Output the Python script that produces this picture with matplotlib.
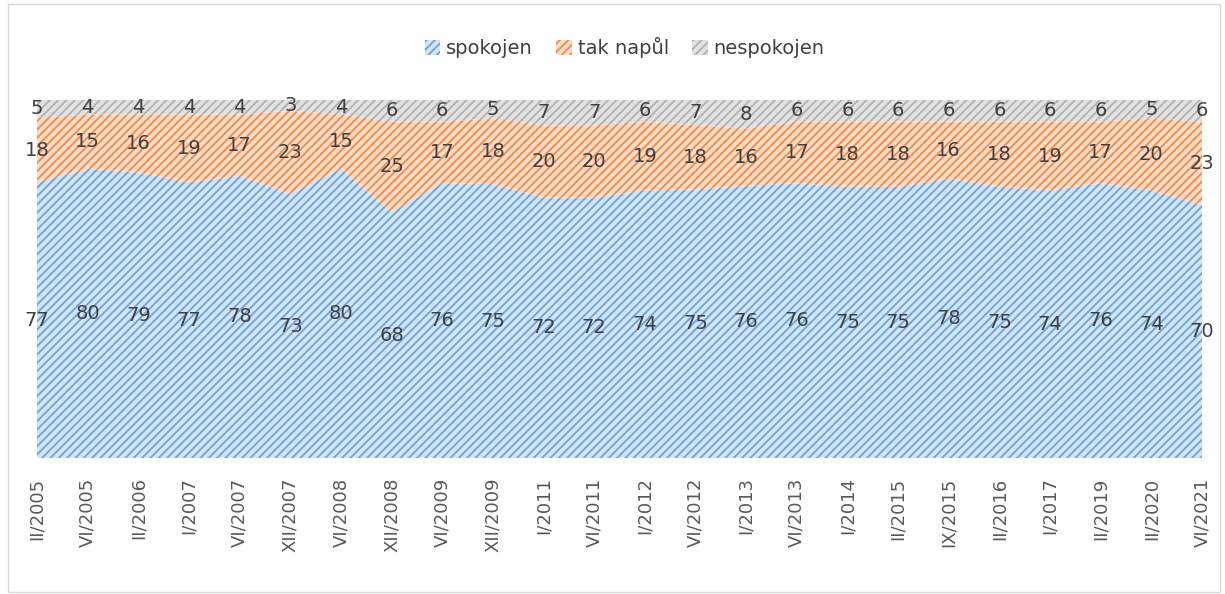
import matplotlib.pyplot as plt
import matplotlib.patches as mpatches
import numpy as np

# data
obdobi = ['II/2005', 'VI/2005', 'II/2006', 'I/2007', 'VI/2007', 'XII/2007',
          'VI/2008', 'XII/2008', 'VI/2009', 'XII/2009', 'I/2011', 'VI/2011',
          'I/2012', 'VI/2012', 'I/2013', 'VI/2013', 'I/2014', 'II/2015',
          'IX/2015', 'II/2016', 'I/2017', 'II/2019', 'II/2020', 'VI/2021']
spokojen = [77, 80, 79, 77, 78, 73, 80, 68, 76, 75, 72, 72,
            74, 75, 76, 76, 75, 75, 78, 75, 74, 76, 74, 70]
tak_napul = [18, 15, 16, 19, 17, 23, 15, 25, 17, 18, 20, 20,
             19, 18, 16, 17, 18, 18, 16, 18, 19, 17, 20, 23]
nespokojen = [5, 4, 4, 4, 4, 3, 4, 6, 6, 5, 7, 7,
              6, 7, 8, 6, 6, 6, 6, 6, 6, 6, 5, 6]

serie = [('spokojen', spokojen, '#d3e4f6', '#6fa6db'),
         ('tak napůl', tak_napul, '#fbdcc8', '#f0904e'),
         ('nespokojen', nespokojen, '#e2e2e2', '#b3b3b3')]

plt.rcParams['hatch.linewidth'] = 1.4

fig = plt.figure(figsize=(12.25, 5.94), dpi=100)
ax = fig.add_axes([37 / 1225, 1 - 458 / 594, (1202 - 37) / 1225, (458 - 100) / 594])

x = np.arange(len(obdobi))
# 100% skladany plosny graf
soucet = np.array(spokojen) + np.array(tak_napul) + np.array(nespokojen)
spodek = np.zeros(len(obdobi))
handles = []
for nazev, hodnoty, bg, fg in serie:
    h = np.array(hodnoty, dtype=float)
    hp = h / soucet * 100
    ax.fill_between(x, spodek, spodek + hp, facecolor=bg, edgecolor=fg,
                    hatch='////', linewidth=0)
    for xi, b, v, vp in zip(x, spodek, h, hp):
        ax.text(xi, b + vp / 2, str(int(v)), ha='center', va='center',
                fontsize=14, color='#404040')
    handles.append(mpatches.Patch(facecolor=bg, edgecolor=fg, hatch='////',
                                  linewidth=0, label=nazev))
    spodek = spodek + hp

ax.set_xlim(0, len(obdobi) - 1)
ax.set_ylim(0, 100)
ax.set_xticks(x)
ax.set_xticklabels(obdobi, rotation=90, fontsize=13, color='#595959')
ax.tick_params(axis='x', length=0, pad=14)
ax.set_yticks([])
for s in ax.spines.values():
    s.set_visible(False)

fig.legend(handles=handles, loc='center', bbox_to_anchor=(0.51, 1 - 48 / 594),
           ncol=3, frameon=False, fontsize=14, handlelength=0.8,
           handleheight=0.8, handletextpad=0.3, columnspacing=1.2,
           labelcolor='#404040')

# ramecek grafu
fig.patches.append(mpatches.Rectangle((8 / 1225, 2 / 594), 1212 / 1225, 588 / 594,
                                      transform=fig.transFigure, fill=False,
                                      edgecolor='#d9d9d9', linewidth=1))

fig.savefig('out.png', dpi=100)
